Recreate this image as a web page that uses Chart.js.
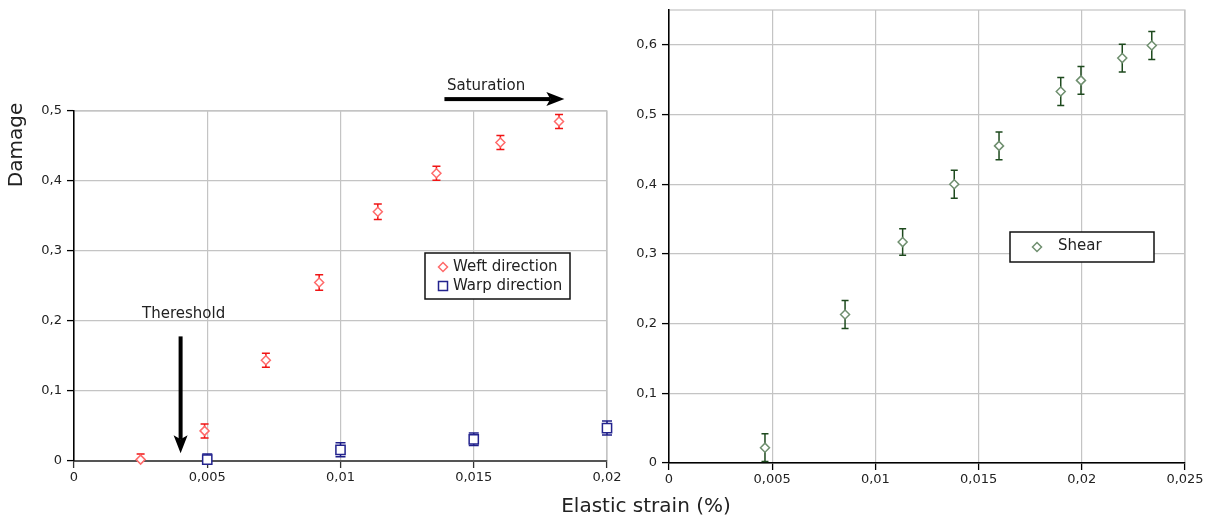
<!DOCTYPE html>
<html>
<head>
<meta charset="utf-8">
<script src="https://cdn.jsdelivr.net/npm/chart.js"></script>
<style>
    body { margin: 0; background: #fff; }
    #wrap { position: relative; width: 1210px; height: 519px; }
    #wrap canvas { position: absolute; left: 0; top: 0; }
</style>
</head>
<body>
<div id="wrap">
    <canvas id="chart-left" width="1210" height="519"></canvas>
    <canvas id="chart-right" width="1210" height="519"></canvas>
</div>
<script>
    // left panel: weft / warp damage
    const weftX = [0.0025, 0.0049, 0.0072, 0.0092, 0.0114, 0.0136, 0.0160, 0.0182];
    const weftY = [0.002, 0.043, 0.144, 0.255, 0.356, 0.411, 0.455, 0.485];
    const weftErr = [0.008, 0.010, 0.010, 0.011, 0.011, 0.010, 0.010, 0.010];

    const warpX = [0.005, 0.010, 0.015, 0.020];
    const warpY = [0.002, 0.016, 0.031, 0.047];
    const warpErr = [0.008, 0.010, 0.009, 0.010];

    // right panel: shear
    const shearX = [0.00465, 0.00853, 0.01132, 0.01382, 0.01599, 0.01898, 0.01996, 0.02196, 0.02339];
    const shearY = [0.022, 0.213, 0.317, 0.400, 0.455, 0.533, 0.549, 0.581, 0.599];
    const shearErr = [0.020, 0.020, 0.019, 0.020, 0.020, 0.020, 0.020, 0.020, 0.020];

    const leftXTicks = [0, 0.005, 0.01, 0.015, 0.02];
    const leftXLabels = ["0", "0,005", "0,01", "0,015", "0,02"];
    const leftYTicks = [0, 0.1, 0.2, 0.3, 0.4, 0.5];
    const leftYLabels = ["0", "0,1", "0,2", "0,3", "0,4", "0,5"];

    const rightXTicks = [0, 0.005, 0.01, 0.015, 0.02, 0.025];
    const rightXLabels = ["0", "0,005", "0,01", "0,015", "0,02", "0,025"];
    const rightYTicks = [0, 0.1, 0.2, 0.3, 0.4, 0.5, 0.6];
    const rightYLabels = ["0", "0,1", "0,2", "0,3", "0,4", "0,5", "0,6"];

    const FONT = "DejaVu Sans";

    function points(xs, ys, errs) {
        return xs.map(function (x, i) { return { x: x, y: ys[i], err: errs[i] }; });
    }

    function fixedTicks(values) {
        return function (scale) {
            scale.ticks = values.map(function (v) { return { value: v }; });
        };
    }

    function tickLabel(labels) {
        return function (value, index) { return labels[index]; };
    }

    // error bars under the markers, cut at the x axis
    const errorBars = {
        id: "errorBars",
        beforeDatasetsDraw: function (chart) {
            const ctx = chart.ctx;
            const xs = chart.scales.x, ys = chart.scales.y;
            const area = chart.chartArea;
            ctx.save();
            ctx.beginPath();
            ctx.rect(0, 0, chart.width, area.bottom);
            ctx.clip();
            chart.data.datasets.forEach(function (ds) {
                ctx.strokeStyle = ds.errColor;
                ctx.lineWidth = 1.5;
                const cap = ds.capWidth;
                ds.data.forEach(function (d) {
                    const px = xs.getPixelForValue(d.x);
                    const top = ys.getPixelForValue(d.y + d.err);
                    const bot = ys.getPixelForValue(d.y - d.err);
                    ctx.beginPath();
                    ctx.moveTo(px, top); ctx.lineTo(px, bot);
                    ctx.moveTo(px - cap, top); ctx.lineTo(px + cap, top);
                    ctx.moveTo(px - cap, bot); ctx.lineTo(px + cap, bot);
                    ctx.stroke();
                });
            });
            ctx.restore();
        }
    };

    // frame around the plot area (top / right edges)
    const frame = {
        id: "frame",
        beforeDraw: function (chart) {
            const a = chart.chartArea;
            const ctx = chart.ctx;
            ctx.save();
            ctx.strokeStyle = "#c4c4c4";
            ctx.lineWidth = 1.2;
            ctx.strokeRect(a.left, a.top, a.right - a.left, a.bottom - a.top);
            ctx.restore();
        }
    };

    function drawDiamond(ctx, x, y, r, color) {
        ctx.beginPath();
        ctx.moveTo(x, y - r); ctx.lineTo(x + r, y); ctx.lineTo(x, y + r); ctx.lineTo(x - r, y);
        ctx.closePath();
        ctx.fillStyle = "#fff"; ctx.fill();
        ctx.strokeStyle = color; ctx.lineWidth = 1.5; ctx.stroke();
    }

    function drawSquare(ctx, x, y, h, color) {
        ctx.fillStyle = "#fff";
        ctx.fillRect(x - h, y - h, 2 * h, 2 * h);
        ctx.strokeStyle = color; ctx.lineWidth = 1.5;
        ctx.strokeRect(x - h, y - h, 2 * h, 2 * h);
    }

    const leftExtras = {
        id: "leftExtras",
        afterDraw: function (chart) {
            const ctx = chart.ctx;
            const xs = chart.scales.x, ys = chart.scales.y;
            ctx.save();
            ctx.fillStyle = "#222";
            ctx.font = "15px " + FONT;
            ctx.textBaseline = "middle";
            ctx.textAlign = "left";

            // Saturation arrow
            ctx.fillText("Saturation", 447, 86);
            var x0 = xs.getPixelForValue(0.0139), x1 = xs.getPixelForValue(0.0184), ya = ys.getPixelForValue(0.517);
            ctx.fillStyle = "#000";
            ctx.fillRect(x0, ya - 2, x1 - x0 - 14, 4);
            ctx.beginPath();
            ctx.moveTo(x1, ya); ctx.lineTo(x1 - 18, ya - 7); ctx.lineTo(x1 - 14, ya); ctx.lineTo(x1 - 18, ya + 7);
            ctx.closePath(); ctx.fill();

            // Thereshold arrow
            ctx.fillStyle = "#222";
            ctx.fillText("Thereshold", 142, 314);
            var xt = xs.getPixelForValue(0.0040), yt0 = ys.getPixelForValue(0.178), yt1 = ys.getPixelForValue(0.011);
            ctx.fillStyle = "#000";
            ctx.fillRect(xt - 2, yt0, 4, yt1 - yt0 - 14);
            ctx.beginPath();
            ctx.moveTo(xt, yt1); ctx.lineTo(xt - 7, yt1 - 18); ctx.lineTo(xt, yt1 - 14); ctx.lineTo(xt + 7, yt1 - 18);
            ctx.closePath(); ctx.fill();

            // legend
            ctx.fillStyle = "#fff";
            ctx.fillRect(425, 253, 145, 46);
            ctx.strokeStyle = "#111"; ctx.lineWidth = 1.5;
            ctx.strokeRect(425, 253, 145, 46);
            drawDiamond(ctx, 443, 267, 4.5, "#ff6a6a");
            drawSquare(ctx, 443, 286, 4.5, "#23238e");
            ctx.fillStyle = "#222";
            ctx.fillText("Weft direction", 453, 267);
            ctx.fillText("Warp direction", 453, 286);

            // axis titles
            ctx.font = "20px " + FONT;
            ctx.textAlign = "center";
            ctx.fillText("Elastic strain (%)", 646, 507);
            ctx.translate(17, 145);
            ctx.rotate(-Math.PI / 2);
            ctx.fillText("Damage", 0, 0);
            ctx.restore();
        }
    };

    const rightExtras = {
        id: "rightExtras",
        afterDraw: function (chart) {
            const ctx = chart.ctx;
            ctx.save();
            ctx.fillStyle = "#fff";
            ctx.fillRect(1010, 232, 144, 30);
            ctx.strokeStyle = "#111"; ctx.lineWidth = 1.5;
            ctx.strokeRect(1010, 232, 144, 30);
            drawDiamond(ctx, 1037, 247, 4.5, "#6f8f6f");
            ctx.fillStyle = "#222";
            ctx.font = "15px " + FONT;
            ctx.textBaseline = "middle";
            ctx.fillText("Shear", 1058, 246);
            ctx.restore();
        }
    };

    function axisOptions(opt) {
        return {
            type: "linear",
            min: opt.min,
            max: opt.max,
            afterBuildTicks: fixedTicks(opt.ticks),
            afterFit: function (scale) {
                if (opt.axis === "y") scale.width = 40; else scale.height = 30;
                // keep the plot area exactly where the padding puts it
                scale.paddingTop = 0; scale.paddingBottom = 0;
                scale.paddingLeft = 0; scale.paddingRight = 0;
            },
            grid: {
                color: "#c4c4c4",
                lineWidth: 1.2,
                tickLength: 7,
                tickColor: opt.tickColor,
                tickWidth: 1.3
            },
            border: { color: opt.borderColor, width: opt.borderWidth },
            ticks: {
                callback: tickLabel(opt.labels),
                color: "#222",
                padding: opt.axis === "y" ? 5 : 2,
                maxRotation: 0,
                autoSkip: false,
                font: { size: 13, family: FONT }
            }
        };
    }

    Chart.defaults.font.family = FONT;

    new Chart(document.getElementById("chart-left"), {
        type: "scatter",
        data: {
            datasets: [{
                label: "Weft direction",
                data: points(weftX, weftY, weftErr),
                pointStyle: "rectRot",
                pointRadius: 4.5,
                borderWidth: 1.5,
                borderColor: "#ff6a6a",
                backgroundColor: "#fff",
                errColor: "#f01414",
                capWidth: 4,
                clip: false
            }, {
                label: "Warp direction",
                data: points(warpX, warpY, warpErr),
                pointStyle: "rect",
                pointRadius: 6.5,
                borderWidth: 1.5,
                borderColor: "#23238e",
                backgroundColor: "#fff",
                errColor: "#1f1f8a",
                capWidth: 5,
                clip: false
            }]
        },
        options: {
            responsive: false,
            animation: false,
            events: [],
            layout: { padding: { left: 34, right: 603, top: 111, bottom: 28 } },
            plugins: { legend: { display: false }, tooltip: { enabled: false } },
            scales: {
                x: axisOptions({ axis: "x", min: 0, max: 0.02, ticks: leftXTicks, labels: leftXLabels, borderColor: "#555", borderWidth: 2, tickColor: "#333" }),
                y: axisOptions({ axis: "y", min: 0, max: 0.5, ticks: leftYTicks, labels: leftYLabels, borderColor: "#000", borderWidth: 1.5, tickColor: "#000" })
            }
        },
        plugins: [frame, errorBars, leftExtras]
    });

    new Chart(document.getElementById("chart-right"), {
        type: "scatter",
        data: {
            datasets: [{
                label: "Shear",
                data: points(shearX, shearY, shearErr),
                pointStyle: "rectRot",
                pointRadius: 4.5,
                borderWidth: 1.5,
                borderColor: "#6f8f6f",
                backgroundColor: "#fff",
                errColor: "#1e4a1e",
                capWidth: 3.5,
                clip: false
            }]
        },
        options: {
            responsive: false,
            animation: false,
            events: [],
            layout: { padding: { left: 629, right: 25, top: 10, bottom: 26 } },
            plugins: { legend: { display: false }, tooltip: { enabled: false } },
            scales: {
                x: axisOptions({ axis: "x", min: 0, max: 0.025, ticks: rightXTicks, labels: rightXLabels, borderColor: "#000", borderWidth: 1.5, tickColor: "#000" }),
                y: axisOptions({ axis: "y", min: 0, max: 0.65, ticks: rightYTicks, labels: rightYLabels, borderColor: "#000", borderWidth: 1.5, tickColor: "#000" })
            }
        },
        plugins: [frame, errorBars, rightExtras]
    });
</script>
</body>
</html>
